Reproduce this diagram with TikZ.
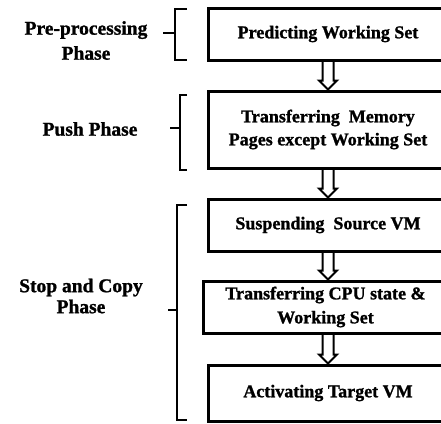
\documentclass[tikz,border=0pt]{standalone}
\usepackage{fontspec}
\setmainfont{Liberation Serif}[BoldFeatures={FakeBold=1.2}]
\usetikzlibrary{calc}
\newcommand\holarrow[2]{%
  \draw[harrow] let \p1=(#1), \p2=(#2) in
    (\x1-5.5pt,\y1) -- (\x1-5.5pt,\y2+9pt) -- (\x1-9pt,\y2+9pt) -- (\x1,\y2)
    -- (\x1+9pt,\y2+9pt) -- (\x1+5.5pt,\y2+9pt) -- (\x1+5.5pt,\y1);}
\begin{document}
\begin{tikzpicture}[x=1pt,y=-1pt,
  box/.style={draw, line width=3pt, inner sep=0pt, align=center,
    font=\fontsize{18}{23}\selectfont\bfseries},
  lbl/.style={align=center, inner sep=0pt, font=\fontsize{19.5}{25}\selectfont\bfseries},
  harrow/.style={line width=2pt, miter limit=10},
  brc/.style={line width=2.5pt}]
\useasboundingbox (0,0) rectangle (441,423);
\clip (0,0) rectangle (441,423);
\fill[white] (0,0) rectangle (441,423);
% boxes
\node[box, minimum width=240pt, minimum height=52pt] (b1) at (328,34) {Predicting Working Set};
\node[box, minimum width=240pt, minimum height=77pt] (b2) at (328,129.5) {Transferring\ \ Memory\\Pages except\ Working Set};
\node[box, minimum width=240pt, minimum height=52pt] (b3) at (328,225) {Suspending\ \ Source VM};
\node[box, minimum width=245pt, minimum height=52pt, font=\fontsize{18}{24}\selectfont\bfseries] (b4) at (325.5,307) {Transferring CPU state \&\\Working Set};
\node[box, minimum width=240pt, minimum height=56pt] (b5) at (328,393) {Activating Target VM};
% arrows
\coordinate (ax) at (328,0);
\holarrow{b1.south -| ax}{b2.north -| ax}
\holarrow{b2.south -| ax}{b3.north -| ax}
\holarrow{b3.south -| ax}{b4.north -| ax}
\holarrow{b4.south -| ax}{b5.north -| ax}
% labels
\node[lbl] (l1) at (86,40.5) {Pre-processing\\Phase};
\node[lbl] (l2) at (90,129) {Push Phase};
\node[lbl, font=\fontsize{19.5}{21}\selectfont\bfseries] (l3) at (81,296) {Stop and Copy\\Phase};
% braces
\draw[brc] (187,9) -- (175,9) -- (175,60) -- (187,60);
\draw[brc] (163,33) -- (175,33);
\draw[brc] (187,95) -- (180,95) -- (180,170) -- (187,170);
\draw[brc] (170,128) -- (180,128);
\draw[brc] (187,205) -- (177,205) -- (177,420) -- (187,420);
\draw[brc] (168,310) -- (177,310);
\end{tikzpicture}
\end{document}
